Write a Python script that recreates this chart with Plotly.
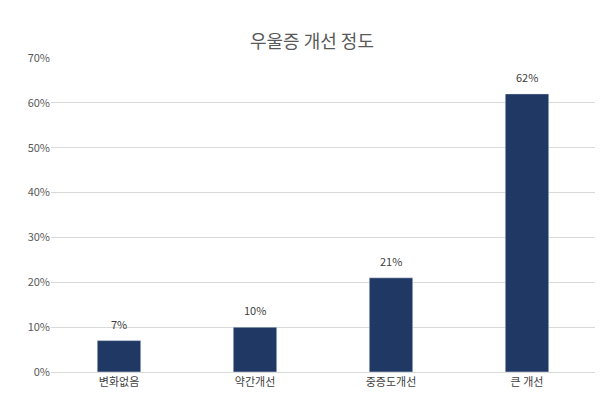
import plotly.graph_objects as go

categories = ["변화없음", "약간개선", "중증도개선", "큰 개선"]
values = [7, 10, 21, 62]
labels = ["7%", "10%", "21%", "62%"]

fig = go.Figure(go.Bar(
    x=categories, y=values,
    marker_color="#1f3864", width=0.32,
))

for c, v, t in zip(categories, values, labels):
    fig.add_annotation(x=c, y=v, text=t, showarrow=False, yanchor="bottom",
                       yshift=7, font=dict(size=11, color="#404040"))

fig.update_layout(
    width=608, height=415,
    title=dict(text="우울증 개선 정도", x=0.5, y=0.935, xanchor="center",
               font=dict(size=18, color="#595959")),
    font=dict(family="Noto Sans CJK KR", size=11, color="#404040"),
    plot_bgcolor="white", paper_bgcolor="white",
    margin=dict(l=43, r=21, t=50, b=51),
    showlegend=False,
)
fig.update_yaxes(range=[0, 70], dtick=10, ticksuffix="%", gridcolor="#d9d9d9",
                 zeroline=False, showline=False, tickfont=dict(color="#595959"))
fig.update_xaxes(showline=True, linecolor="#d9d9d9", tickfont=dict(color="#404040"))

fig.write_html("out.html")
